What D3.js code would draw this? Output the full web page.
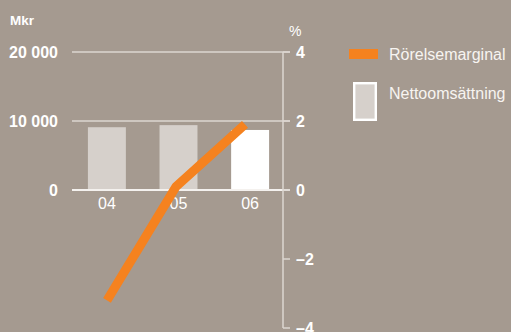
<!DOCTYPE html>
<html>
<head>
<meta charset="UTF-8">
<script src="https://d3js.org/d3.v7.min.js"></script>
<style>
  html, body { margin: 0; padding: 0; background: #a59a90; }
  svg { display: block; font-family: "Liberation Sans", Arial, sans-serif; }
</style>
</head>
<body>
<svg id="chart" width="511" height="332"></svg>
<script>
// data
const years = ["04", "05", "06"];
const sales = [9100, 9400, 8700];        // Nettoomsättning, Mkr
const margin = [-3.2, 0.1, 1.9];         // Rörelsemarginal, %
const leftTicks = [0, 10000, 20000];
const rightTicks = [-4, -2, 0, 2, 4];

const svg = d3.select("#chart");
const fmt = d => d3.format(",")(d).replace(/,/g, " ");

const x = d3.scaleBand().domain(years).range([70, 287])
    .paddingInner(0.47).paddingOuter(0.25);
const xLine = d3.scalePoint().domain(years).range([107, 245]);
const yL = d3.scaleLinear().domain([0, 20000]).range([190, 52]);
const yR = d3.scaleLinear().domain([-4, 4]).range([328, 52]);

const axisX = 283;

// gridlines
svg.append("g").selectAll("line").data(leftTicks).join("line")
    .attr("x1", 72).attr("x2", axisX + 7)
    .attr("y1", d => yL(d)).attr("y2", d => yL(d))
    .attr("stroke", d => d === 0 ? "#f4f1ee" : "#ddd6d0")
    .attr("stroke-width", d => d === 0 ? 2 : 1.3);

// left labels
svg.append("g").selectAll("text").data(leftTicks).join("text")
    .attr("x", 58).attr("y", d => yL(d) + 6)
    .attr("text-anchor", "end")
    .attr("fill", "#fff").attr("font-weight", "bold").attr("font-size", 16)
    .text(fmt);

svg.append("text").attr("x", 10).attr("y", 25)
    .attr("fill", "#fff").attr("font-weight", "bold").attr("font-size", 13.5)
    .text("Mkr");

// bars
svg.append("g").selectAll("rect").data(years).join("rect")
    .attr("x", d => x(d)).attr("width", x.bandwidth())
    .attr("y", (d, i) => yL(sales[i]))
    .attr("height", (d, i) => yL(0) - yL(sales[i]))
    .attr("fill", (d, i) => i === years.length - 1 ? "#ffffff" : "#d6d0cb");

// redraw zero line above bars
svg.append("line").attr("x1", 72).attr("x2", axisX + 7)
    .attr("y1", yL(0)).attr("y2", yL(0))
    .attr("stroke", "#f4f1ee").attr("stroke-width", 2);

// x labels
svg.append("g").selectAll("text").data(years).join("text")
    .attr("x", d => x(d) + x.bandwidth() / 2).attr("y", 209)
    .attr("text-anchor", "middle")
    .attr("fill", "#fff").attr("font-size", 16)
    .text(d => d);

// right axis
svg.append("line").attr("x1", axisX).attr("x2", axisX)
    .attr("y1", yR(4)).attr("y2", yR(-4))
    .attr("stroke", "#ddd6d0").attr("stroke-width", 1.5);
svg.append("g").selectAll("line").data(rightTicks).join("line")
    .attr("x1", axisX).attr("x2", axisX + 7)
    .attr("y1", d => yR(d)).attr("y2", d => yR(d))
    .attr("stroke", "#ddd6d0").attr("stroke-width", 1.5);
svg.append("g").selectAll("text").data(rightTicks).join("text")
    .attr("x", 296).attr("y", d => yR(d) + 6)
    .attr("fill", "#fff").attr("font-weight", "bold").attr("font-size", 16)
    .text(d => d < 0 ? "\u2013" + Math.abs(d) : d);
svg.append("text").attr("x", 289).attr("y", 36)
    .attr("fill", "#fff").attr("font-size", 14)
    .text("%");

// line
svg.append("path")
    .datum(years)
    .attr("d", d3.line().x(d => xLine(d)).y((d, i) => yR(margin[i])))
    .attr("fill", "none").attr("stroke", "#f5821f").attr("stroke-width", 9)
    .attr("stroke-linejoin", "round");

// legend
svg.append("rect").attr("x", 349).attr("y", 49).attr("width", 29).attr("height", 10)
    .attr("fill", "#f5821f");
svg.append("text").attr("x", 389).attr("y", 60)
    .attr("fill", "#f7f4f1").attr("font-size", 16).text("Rörelsemarginal");
svg.append("rect").attr("x", 354.2).attr("y", 83.2).attr("width", 21.6).attr("height", 36.6)
    .attr("fill", "#d6d0cb").attr("stroke", "#fff").attr("stroke-width", 2.4);
svg.append("text").attr("x", 389).attr("y", 99)
    .attr("fill", "#f7f4f1").attr("font-size", 16).text("Nettoomsättning");
</script>
</body>
</html>
